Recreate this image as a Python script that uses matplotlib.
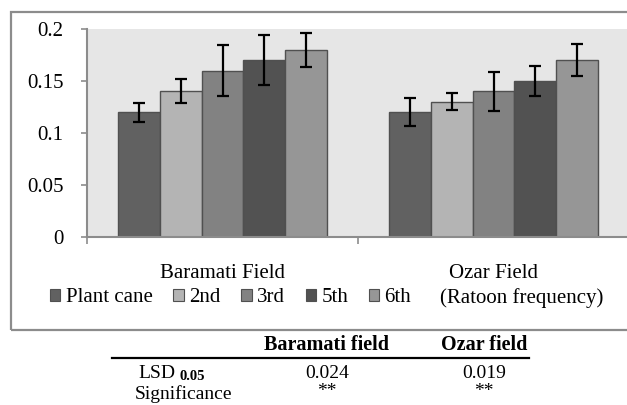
import matplotlib
matplotlib.use("Agg")
import matplotlib.pyplot as plt
import matplotlib.transforms as mtransforms
from matplotlib.patches import Rectangle, Patch
from matplotlib.lines import Line2D
import numpy as np

plt.rcParams['font.family'] = ['Liberation Serif', 'DejaVu Serif']

# data
fields = ["Baramati Field", "Ozar Field"]
ratoons = ["Plant cane", "2nd", "3rd", "5th", "6th"]
baramati_vals = [0.12, 0.14, 0.16, 0.17, 0.18]
baramati_err = [0.009, 0.0115, 0.0245, 0.024, 0.0165]
ozar_vals = [0.12, 0.13, 0.14, 0.15, 0.17]
ozar_err = [0.0135, 0.008, 0.019, 0.014, 0.0155]
ytick_vals = [0, 0.05, 0.1, 0.15, 0.2]
ytick_labels = ["0", "0.05", "0.1", "0.15", "0.2"]

table_cols = ["Baramati field", "Ozar field"]
table_rows = ["LSD", "Significance"]
lsd_sub = "0.05"
lsd_vals = ["0.024", "0.019"]
signif_vals = ["**", "**"]

colors = ["#616161", "#b4b4b4", "#828282", "#525252", "#969696"]
edge_col = "#505050"
W, H = 627, 405

fig = plt.figure(figsize=(W / 100, H / 100), dpi=100)

# outer chart frame
fig.patches.append(Rectangle((11 / W, 1 - 330 / H), (W + 10 - 11) / W, (330 - 12) / H,
                             transform=fig.transFigure, fill=False,
                             edgecolor="#8c8c8c", linewidth=1.6, clip_on=False))

ax = fig.add_axes([87 / W, 1 - 237 / H, (629 - 87) / W, (237 - 29) / H])
ax.set_facecolor("#e6e6e6")

x = np.arange(len(fields))
bw = 0.1545
vals = np.array([baramati_vals, ozar_vals])
errs = np.array([baramati_err, ozar_err])
for i, name in enumerate(ratoons):
    pos = x + (i - 2) * bw
    ax.bar(pos, vals[:, i], width=bw, color=colors[i], edgecolor=edge_col,
           linewidth=1.0, zorder=2)
    ax.errorbar(pos, vals[:, i], yerr=errs[:, i], fmt='none', ecolor='black',
                elinewidth=1.6, capsize=4, capthick=1.6, zorder=3)

ax.set_xlim(-0.5, 1.5)
ax.set_ylim(0, 0.2)
ax.set_yticks(ytick_vals)
ax.set_yticklabels(ytick_labels, fontsize=15)
ax.set_xticks([-0.5, 0.5, 1.5])
ax.set_xticklabels([])
ax.tick_params(axis='y', length=4, width=1.2, color="#8c8c8c", pad=13)
ax.tick_params(axis='x', length=5, width=1.2, color="#8c8c8c", direction='out')
for s in ["top", "right"]:
    ax.spines[s].set_visible(False)
for s in ["left", "bottom"]:
    ax.spines[s].set_color("#8c8c8c")
    ax.spines[s].set_linewidth(1.5)

# category labels
trans = mtransforms.blended_transform_factory(ax.transData, fig.transFigure)
for xi, name in zip(x, fields):
    ax.text(xi, 1 - 273 / H, name, transform=trans, ha='center', va='center',
            fontsize=15)

# legend
handles = [Patch(facecolor=c, edgecolor=edge_col, linewidth=0.8) for c in colors]
fig.legend(handles, ratoons, loc='center left', bbox_to_anchor=(50 / W, 1 - 298 / H),
           ncol=5, frameon=False, fontsize=15, handlelength=0.5, handleheight=0.5,
           handletextpad=0.25, columnspacing=1.0, borderpad=0, borderaxespad=0)
fig.text(440 / W, 1 - 298 / H, "(Ratoon frequency)", ha='left', va='center', fontsize=15)

# small table below chart
col_x = [327 / W, 484 / W]
for cx, t in zip(col_x, table_cols):
    fig.text(cx, 1 - 345 / H, t, ha='center', va='center', fontsize=14.5, fontweight='bold')
fig.add_artist(Line2D([112 / W, 529 / W], [1 - 358 / H, 1 - 358 / H],
                      transform=fig.transFigure, color='black', linewidth=1.6))
fig.text(175 / W, 1 - 373 / H, table_rows[0], ha='right', va='center', fontsize=14)
fig.text(179 / W, 1 - 376 / H, lsd_sub, ha='left', va='center', fontsize=10.5,
         fontweight='bold')
fig.text(183 / W, 1 - 394 / H, table_rows[1], ha='center', va='center', fontsize=14)
for cx, v, s in zip(col_x, lsd_vals, signif_vals):
    fig.text(cx, 1 - 373 / H, v, ha='center', va='center', fontsize=14)
    fig.text(cx, 1 - 392 / H, s, ha='center', va='center', fontsize=14)

fig.savefig("out.png", dpi=100)
